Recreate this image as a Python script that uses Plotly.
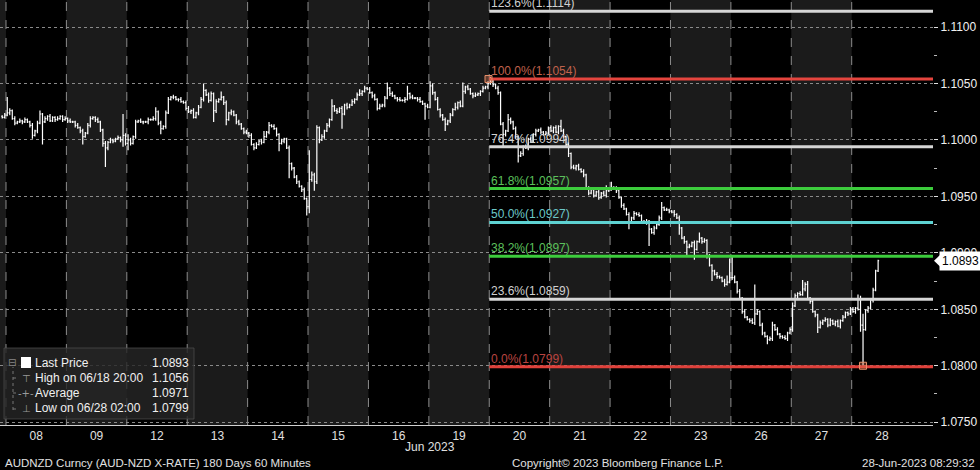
import plotly.graph_objects as go

# AUDNZD hourly bars, prices in pips above 1.0000 (1024 -> 1.1024)
DAY_LABELS = ["07", "08", "09", "12", "13", "14", "15", "16", "19", "20",
              "21", "22", "23", "26", "27", "28"]

CLOSE_PIPS = [
    [1020, 1022],
    [1024, 1026, 1019, 1015, 1016, 1017, 1016, 1018, 1016, 1013, 1004, 1008, 1015, 1023, 1016, 1019, 1021, 1017, 1020, 1018, 1019, 1021, 1018, 1019],
    [1017, 1016, 1016, 1013, 1011, 1008, 1003, 1006, 1013, 1019, 1020, 1018, 1016, 1009, 997, 993, 998, 1000, 999, 1001, 1002, 1000, 1004, 997],
    [1000, 997, 1003, 1016, 1017, 1016, 1016, 1016, 1018, 1018, 1019, 1025, 1015, 1010, 1012, 1024, 1036, 1038, 1038, 1036, 1036, 1034, 1033, 1028],
    [1025, 1026, 1020, 1024, 1029, 1036, 1044, 1040, 1035, 1041, 1026, 1034, 1036, 1038, 1033, 1018, 1024, 1025, 1022, 1016, 1014, 1010, 1007, 1006],
    [1004, 996, 993, 996, 999, 998, 1003, 1007, 1013, 1012, 1010, 1005, 997, 999, 1001, 993, 979, 975, 967, 963, 959, 956, 948, 941],
    [965, 969, 963, 1011, 1000, 1003, 1008, 1013, 1018, 1030, 1026, 1025, 1028, 1023, 1031, 1029, 1031, 1034, 1036, 1040, 1041, 1043, 1046, 1045],
    [1042, 1039, 1036, 1028, 1030, 1031, 1037, 1046, 1041, 1039, 1037, 1036, 1035, 1035, 1036, 1041, 1038, 1037, 1037, 1036, 1034, 1032, 1030, 1029],
    [1048, 1042, 1036, 1027, 1022, 1018, 1014, 1017, 1022, 1027, 1029, 1033, 1030, 1043, 1047, 1045, 1041, 1039, 1040, 1041, 1043, 1046, 1047, 1050],
    [1052, 1049, 1046, 1042, 1014, 1005, 1008, 1018, 1016, 1010, 1003, 986, 988, 994, 993, 1001, 999, 1005, 1008, 1009, 1007, 1005, 1006, 1011],
    [1008, 1011, 1007, 1012, 1008, 1003, 996, 988, 976, 975, 977, 974, 972, 969, 957, 953, 956, 951, 954, 949, 953, 951, 955, 956],
    [958, 957, 955, 949, 942, 939, 934, 927, 931, 935, 934, 933, 928, 927, 928, 921, 918, 922, 925, 931, 940, 938, 938, 937],
    [936, 934, 931, 922, 913, 910, 905, 906, 909, 903, 910, 913, 910, 911, 897, 889, 884, 881, 879, 878, 875, 872, 874, 878],
    [878, 874, 866, 860, 848, 843, 841, 840, 838, 846, 848, 836, 829, 826, 823, 824, 836, 832, 828, 826, 825, 824, 829, 832],
    [853, 862, 864, 863, 868, 872, 860, 857, 848, 845, 834, 838, 840, 841, 836, 840, 837, 839, 835, 840, 843, 847, 846, 850],
    [848, 851, 850, 836, 832, 849, 851, 858, 867, 884, 893],
]
# pips above / below the open-close body of each bar
HI_WICK = [
    [1, 2],
    [14, 2, 1, 2, 1, 2, 1, 2, 1, 1, 2, 1, 2, 3, 1, 2, 1, 2, 1, 1, 2, 1, 1, 2],
    [1, 2, 1, 1, 2, 1, 2, 1, 2, 2, 1, 1, 2, 1, 1, 2, 1, 2, 1, 1, 2, 1, 19, 2],
    [5, 2, 1, 2, 1, 2, 1, 1, 2, 1, 2, 4, 1, 2, 1, 2, 2, 1, 2, 1, 1, 2, 1, 2],
    [2, 1, 2, 1, 2, 2, 6, 1, 2, 2, 1, 2, 1, 5, 1, 2, 1, 2, 1, 1, 2, 1, 1, 2],
    [1, 2, 1, 2, 1, 2, 5, 1, 3, 1, 2, 1, 1, 2, 1, 1, 2, 1, 1, 2, 1, 1, 2, 1],
    [26, 3, 2, 2, 1, 2, 1, 2, 1, 6, 1, 2, 1, 2, 1, 2, 1, 2, 1, 2, 4, 1, 2, 1],
    [2, 1, 2, 1, 2, 1, 2, 5, 1, 2, 1, 1, 2, 1, 2, 7, 1, 2, 1, 1, 2, 1, 1, 2],
    [4, 2, 1, 2, 1, 1, 2, 1, 2, 1, 4, 1, 2, 8, 1, 2, 1, 1, 2, 1, 1, 2, 1, 2],
    [4, 2, 1, 2, 1, 2, 1, 5, 2, 1, 2, 1, 2, 1, 2, 1, 2, 1, 2, 1, 2, 1, 2, 1],
    [2, 1, 2, 1, 6, 2, 1, 2, 1, 2, 1, 2, 1, 2, 1, 2, 1, 2, 1, 2, 1, 2, 5, 1],
    [5, 1, 2, 1, 1, 2, 1, 2, 1, 2, 1, 2, 1, 1, 2, 1, 1, 2, 1, 2, 5, 1, 2, 1],
    [1, 2, 1, 2, 1, 2, 1, 2, 1, 2, 1, 5, 1, 2, 1, 2, 1, 1, 2, 1, 1, 2, 6, 17],
    [19, 2, 1, 2, 1, 2, 1, 1, 2, 26, 2, 1, 2, 1, 1, 2, 3, 1, 2, 1, 1, 2, 1, 2],
    [3, 2, 1, 2, 8, 2, 3, 1, 2, 1, 1, 2, 1, 2, 1, 2, 1, 1, 2, 1, 2, 1, 1, 2],
    [2, 1, 12, 12, 10, 1, 2, 1, 2, 1, 1],
]
LO_WICK = [
    [1, 1],
    [1, 2, 1, 2, 1, 1, 2, 1, 1, 2, 3, 1, 2, 1, 20, 1, 2, 1, 1, 2, 1, 1, 2, 1],
    [2, 1, 1, 2, 1, 2, 7, 1, 1, 2, 1, 2, 1, 2, 3, 17, 2, 1, 2, 1, 1, 2, 6, 2],
    [6, 2, 1, 2, 1, 1, 2, 1, 2, 1, 1, 2, 2, 5, 1, 2, 1, 1, 2, 1, 2, 1, 1, 2],
    [1, 2, 1, 1, 2, 1, 2, 1, 2, 1, 10, 2, 1, 1, 2, 5, 1, 2, 1, 2, 1, 1, 2, 1],
    [2, 1, 2, 1, 1, 2, 1, 1, 2, 1, 1, 2, 7, 1, 2, 1, 13, 2, 1, 2, 1, 2, 1, 8],
    [6, 2, 8, 2, 3, 1, 2, 1, 2, 1, 1, 2, 1, 13, 1, 2, 1, 1, 2, 1, 1, 2, 1, 1],
    [1, 2, 1, 2, 1, 1, 2, 1, 2, 1, 1, 2, 1, 1, 2, 1, 2, 1, 1, 2, 1, 1, 12, 1],
    [1, 2, 1, 1, 2, 1, 6, 1, 2, 1, 1, 2, 1, 1, 2, 1, 1, 2, 1, 1, 2, 1, 1, 2],
    [1, 2, 1, 2, 1, 12, 2, 1, 2, 1, 2, 6, 1, 2, 1, 2, 1, 1, 2, 1, 2, 1, 1, 2],
    [1, 2, 1, 2, 1, 1, 2, 3, 2, 1, 2, 1, 1, 2, 1, 2, 1, 2, 1, 2, 1, 1, 2, 1],
    [1, 1, 2, 1, 2, 1, 1, 6, 1, 2, 1, 1, 2, 1, 2, 15, 1, 2, 1, 1, 2, 1, 1, 2],
    [1, 2, 1, 6, 1, 2, 8, 1, 1, 9, 1, 1, 2, 1, 2, 1, 9, 1, 2, 1, 1, 2, 1, 1],
    [2, 1, 2, 1, 2, 1, 1, 2, 1, 2, 1, 1, 2, 1, 4, 1, 2, 1, 1, 2, 1, 1, 2, 1],
    [2, 1, 2, 1, 1, 2, 1, 2, 1, 2, 5, 1, 2, 1, 2, 1, 1, 2, 1, 2, 1, 1, 2, 1],
    [1, 2, 1, 6, 33, 1, 2, 1, 2, 1, 1],
]
FIRST_OPEN = 1021

FIB_PCT = ["123.6%", "100.0%", "76.4%", "61.8%", "50.0%", "38.2%", "23.6%", "0.0%"]
FIB_PRICE = [1.1114, 1.1054, 1.0994, 1.0957, 1.0927, 1.0897, 1.0859, 1.0799]
FIB_LINE = ["#d6d6d6", "#e5453e", "#d6d6d6", "#3ccc3c", "#5ed2d2", "#3ccc3c", "#d6d6d6", "#e0403a"]
FIB_TEXT = ["#d0d0d0", "#c0624c", "#d0d0d0", "#5cc05c", "#6cc8c8", "#5cc05c", "#d0d0d0", "#b84440"]

HIGH_BAR = 192   # 20 Jun, first bar
LOW_BAR = 340    # 28 Jun 02:00
LAST_PRICE = 1.0893

LEGEND_ROWS = [("Last Price", "1.0893"), ("High on 06/18 20:00", "1.1056"),
               ("Average", "1.0971"), ("Low on 06/28 02:00", "1.0799")]

FONT = "Liberation Sans, Arial, sans-serif"
W, H = 980, 470
PLOT_R, PLOT_B = 933, 425
X_RANGE = [-2.88, 367.8]
Y_RANGE = [1.07475, 1.1124]

# build bars
xs, op, hi, lo, cl = [], [], [], [], []
prev = FIRST_OPEN
for i, day in enumerate(CLOSE_PIPS):
    assert len(day) == len(HI_WICK[i]) == len(LO_WICK[i])
    if 0 < i < len(CLOSE_PIPS) - 1:
        assert len(day) == 24, DAY_LABELS[i]
    start = 24 - len(day) if i == 0 else 0
    for h, c in enumerate(day):
        xs.append((i - 1) * 24 + start + h)
        op.append(1 + prev / 10000)
        cl.append(1 + c / 10000)
        hi.append(1 + (max(prev, c) + HI_WICK[i][h]) / 10000)
        lo.append(1 + (min(prev, c) - LO_WICK[i][h]) / 10000)
        prev = c


def px(x):
    return x / PLOT_R


def py(y):
    return (PLOT_B - y) / PLOT_B


def paper_text(x, y, text, size, color, xanchor="center", family=FONT):
    return dict(x=px(x), y=py(y), xref="paper", yref="paper", text=text,
                showarrow=False, xanchor=xanchor, yanchor="middle",
                font=dict(family=family, size=size, color=color))


fig = go.Figure()

fig.add_trace(go.Ohlc(
    x=xs, open=op, high=hi, low=lo, close=cl,
    increasing=dict(line=dict(color="#ffffff", width=1.2)),
    decreasing=dict(line=dict(color="#ffffff", width=1.2)),
    tickwidth=0.4, hoverinfo="skip", showlegend=False,
))

for price, color in zip(FIB_PRICE, FIB_LINE):
    fig.add_trace(go.Scatter(
        x=[HIGH_BAR - 0.5, X_RANGE[1]], y=[price, price], mode="lines",
        line=dict(color=color, width=3), hoverinfo="skip", showlegend=False,
    ))

fig.add_trace(go.Scatter(
    x=[HIGH_BAR - 0.8, LOW_BAR], y=[FIB_PRICE[1], FIB_PRICE[-1] + 0.0001],
    mode="markers",
    marker=dict(symbol="square", size=7, color="rgba(230,120,80,0.35)",
                line=dict(color="#e8906a", width=1)),
    hoverinfo="skip", showlegend=False,
))

shapes = []
# alternating day bands
for i, lab in enumerate(DAY_LABELS):
    if i % 2 == 0 and i < len(DAY_LABELS) - 1:
        x0 = X_RANGE[0] if i == 0 else (i - 1) * 24 - 0.5
        shapes.append(dict(type="rect", xref="x", yref="paper", x0=x0, x1=i * 24 - 0.5,
                           y0=0, y1=1, fillcolor="#1b1b1b", line=dict(width=0), layer="below"))
# day separators
for k in range(len(DAY_LABELS) - 1):
    shapes.append(dict(type="line", xref="x", yref="paper", x0=k * 24 - 0.5, x1=k * 24 - 0.5,
                       y0=0, y1=1, line=dict(color="#8c8c8c", width=1, dash="dash"), layer="below"))

# legend box
shapes.append(dict(type="rect", xref="paper", yref="paper", x0=px(4), x1=px(194),
                   y0=py(419), y1=py(348), fillcolor="rgba(38,38,38,0.82)",
                   line=dict(color="rgba(80,80,80,0.7)", width=1)))
shapes.append(dict(type="rect", xref="paper", yref="paper", x0=px(21), x1=px(31),
                   y0=py(368), y1=py(357), fillcolor="#ffffff", line=dict(width=0)))
shapes.append(dict(type="line", xref="paper", yref="paper", x0=px(13), x1=px(13),
                   y0=py(410), y1=py(367), line=dict(color="#777777", width=1, dash="dot")))
for yy in (378, 393, 409):
    shapes.append(dict(type="line", xref="paper", yref="paper", x0=px(13), x1=px(19),
                       y0=py(yy), y1=py(yy), line=dict(color="#777777", width=1, dash="dot")))

# last price pointer
shapes.append(dict(type="path", xref="paper", yref="y",
                   path=f"M {px(934)} {LAST_PRICE} L {px(940)} {LAST_PRICE + 0.0005} "
                        f"L {px(940)} {LAST_PRICE - 0.0005} Z",
                   fillcolor="#ffffff", line=dict(width=0)))

annotations = []
for pct, price, tcol in zip(FIB_PCT, FIB_PRICE, FIB_TEXT):
    annotations.append(dict(x=HIGH_BAR - 0.5, y=price, xref="x", yref="y",
                            text=f"{pct}({price:.4f})", showarrow=False,
                            xanchor="left", yanchor="bottom", yshift=-1,
                            font=dict(family=FONT, size=12, color=tcol)))

annotations.append(dict(x=1, y=LAST_PRICE, xref="paper", yref="y", text="1.0893",
                        showarrow=False, xanchor="left", yanchor="middle", xshift=6,
                        bgcolor="#ffffff", borderpad=2,
                        font=dict(family=FONT, size=12, color="#000000")))

# legend rows
annotations.append(paper_text(12, 362, "⊟", 10, "#888888", family="DejaVu Sans"))
symbols = [None, "⊤", "-+-", "⊥"]
for r, ((label, val), sym) in enumerate(zip(LEGEND_ROWS, symbols)):
    yy = 363 + 15 * r
    annotations.append(paper_text(33, yy, label, 12, "#f0f0f0", xanchor="left"))
    annotations.append(paper_text(191, yy, val, 12, "#f0f0f0", xanchor="right"))
    if sym:
        annotations.append(paper_text(26, yy, sym, 10, "#9a9a9a", family="DejaVu Sans"))

# axis caption and footer
annotations.append(dict(x=168, y=py(447), xref="x", yref="paper", text="Jun 2023",
                        showarrow=False, yanchor="middle",
                        font=dict(family=FONT, size=12, color="#e0e0e0")))
annotations.append(paper_text(3, 463, "AUDNZD Curncy (AUD-NZD X-RATE) 180 Days 60 Minutes",
                              11.5, "#e0e0e0", xanchor="left"))
annotations.append(paper_text(618, 463, "Copyright© 2023 Bloomberg Finance L.P.",
                              11.5, "#e0e0e0"))
annotations.append(paper_text(977, 463, "28-Jun-2023 08:29:32", 11.5, "#e0e0e0",
                              xanchor="right"))

fig.update_layout(
    width=W, height=H,
    paper_bgcolor="#000000", plot_bgcolor="#000000",
    margin=dict(l=0, r=W - PLOT_R, t=0, b=H - PLOT_B),
    font=dict(family=FONT, size=12, color="#e8e8e8"),
    xaxis=dict(
        range=X_RANGE, rangeslider=dict(visible=False), automargin=False,
        tickvals=[(i - 1) * 24 + 11.5 for i in range(1, len(DAY_LABELS))],
        ticktext=DAY_LABELS[1:],
        showgrid=False, zeroline=False, ticks="",
        showline=True, linecolor="#d0d0d0", linewidth=1,
        tickfont=dict(family=FONT, size=12, color="#e0e0e0"),
    ),
    yaxis=dict(
        range=Y_RANGE, side="right", dtick=0.005, tick0=1.08, tickformat=".4f",
        automargin=False,
        showgrid=True, gridcolor="#8a8a8a", griddash="dot", gridwidth=1,
        zeroline=False, ticks="outside", ticklen=4, tickcolor="#e0e0e0",
        minor=dict(dtick=0.0025, ticks="outside", ticklen=3, tickcolor="#bbbbbb", showgrid=False),
        tickfont=dict(family=FONT, size=12, color="#f0f0f0"),
    ),
    shapes=shapes,
    annotations=annotations,
)

fig.write_html(
    "out.html",
    config={"displayModeBar": False},
    post_script="document.body.style.margin='0';document.body.style.background='#000';",
)
